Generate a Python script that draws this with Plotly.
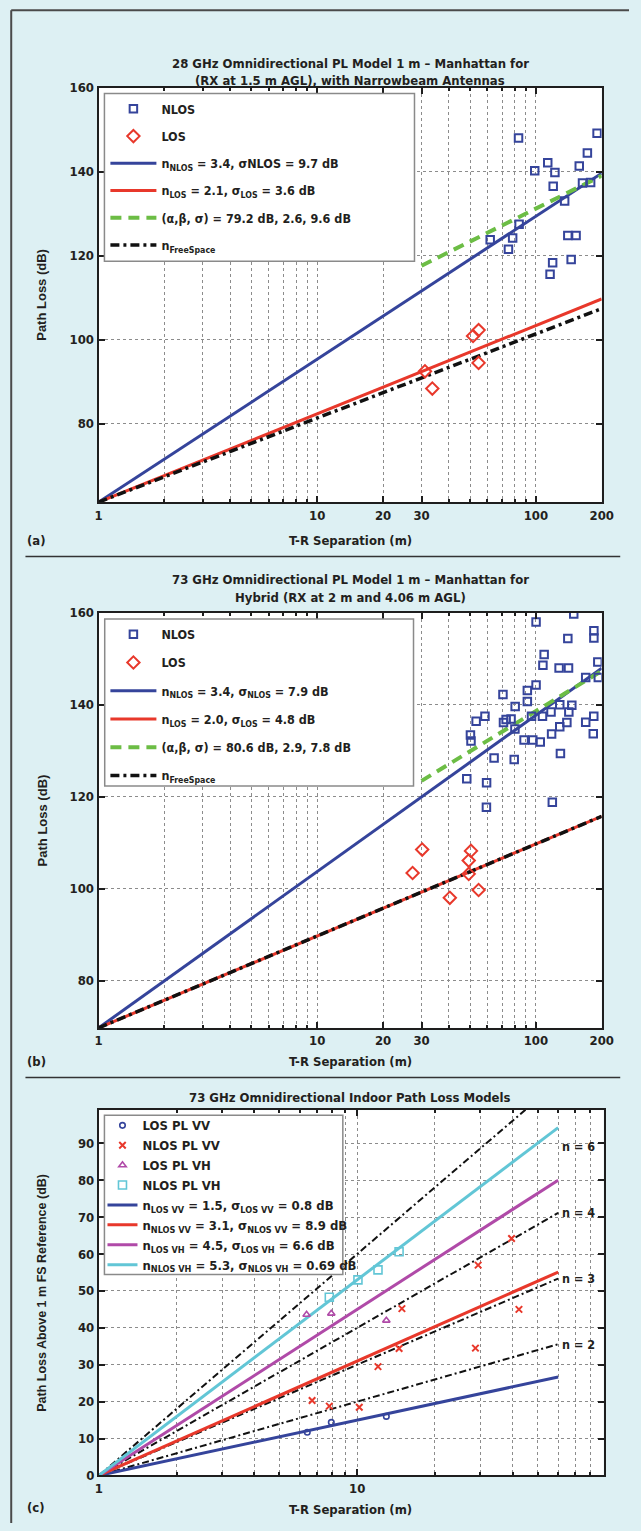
import math
import plotly.graph_objects as go

W, H = 641, 1531
C_LIGHT = 299792458.0

# ---------------- (a) 28 GHz, Manhattan, RX at 1.5 m AGL, narrowbeam ----------------
a_freq_hz = 28e9
a_nlos_dist = [83.3, 190.5, 172, 157.9, 113.3, 98.8, 122.2, 120, 163.4, 178,
               135.4, 83.8, 61.8, 78.3, 74.9, 140, 152.7, 145, 119.3, 116.1]
a_nlos_pl = [148.0, 149.1, 144.4, 141.3, 142.1, 140.2, 139.8, 136.5, 137.3, 137.4,
             133.0, 127.5, 123.8, 124.2, 121.5, 124.8, 124.8, 119.1, 118.3, 115.6]
a_los_dist = [31.1, 33.6, 51.6, 54.7, 54.7]
a_los_pl = [92.5, 88.4, 100.9, 102.3, 94.5]
a_ple = [3.4, 2.1]            # NLOS, LOS path loss exponents
a_sigma = [9.7, 3.6]          # NLOS, LOS shadow fading (dB)
a_abg = [79.2, 2.6, 9.6]      # alpha (dB), beta, sigma (dB)
a_abg_span = [30, 200]
a_span = [1, 200]

# ---------------- (b) 73 GHz, Manhattan, hybrid RX heights ----------------
b_freq_hz = 73e9
b_nlos_dist = [100.2, 149, 184.2, 184.2, 140, 109.1, 107.7, 127.7, 141, 192,
               169, 193, 100.2, 91.4, 70.7, 91.4, 80.4, 128.6, 146, 117.3,
               141.5, 58.5, 53.3, 73.1, 77, 71.1, 95.5, 107.2, 80.2, 138.6,
               128.6, 169, 184, 118, 183, 50.2, 50.5, 88.3, 96.8, 104.7,
               64.4, 79.6, 129.5, 48.3, 59.5, 59.4, 118.9]
b_nlos_pl = [158.0, 159.7, 156.1, 154.5, 154.4, 150.9, 148.6, 148.0, 148.0, 149.3,
             145.9, 145.9, 144.3, 143.1, 142.2, 140.7, 139.6, 140.0, 139.9, 138.4,
             138.4, 137.5, 136.4, 136.8, 136.9, 136.1, 137.5, 137.5, 134.7, 136.1,
             135.2, 136.2, 137.5, 133.6, 133.7, 133.4, 132.1, 132.3, 132.3, 131.9,
             128.4, 128.1, 129.4, 123.9, 123.0, 117.7, 118.8]
b_los_dist = [27.3, 30.2, 40.4, 50.5, 49.3, 49.3, 54.7]
b_los_pl = [103.4, 108.5, 98.0, 108.2, 106.1, 103.2, 99.7]
b_ple = [3.4, 2.0]
b_sigma = [7.9, 4.8]
b_abg = [80.6, 2.9, 7.8]
b_abg_span = [30, 200]
b_span = [1, 200]

free_space_n = 2

# ---------------- (c) 73 GHz indoor, co- and cross-polarized ----------------
c_los_vv_dist = [6.41, 7.94, 12.97]
c_los_vv_pl = [11.7, 14.4, 16.0]
c_nlos_vv_dist = [6.69, 7.8, 10.19, 12.04, 14.53, 14.9, 28.7, 29.4, 39.6, 42.3]
c_nlos_vv_pl = [20.3, 18.8, 18.5, 29.5, 34.4, 45.2, 34.5, 57.0, 64.2, 45.0]
c_los_vh_dist = [6.37, 7.94, 12.97]
c_los_vh_pl = [43.6, 43.9, 42.0]
c_nlos_vh_dist = [7.8, 10.07, 12.04, 14.53]
c_nlos_vh_pl = [48.3, 53.0, 55.7, 60.6]
c_ple = [1.5, 3.1, 4.5, 5.3]          # LOS VV, NLOS VV, LOS VH, NLOS VH
c_sigma = [0.8, 8.9, 6.6, 0.69]
c_ref_n = [2, 3, 4, 6]
c_span = [1, 60]

x_ticks_ab = [1, 10, 20, 30, 100, 200]
x_ticks_c = [1, 10]
y_ticks_ab = [80, 100, 120, 140, 160]
y_ticks_c = [0, 10, 20, 30, 40, 50, 60, 70, 80, 90]

# ---------------- styling ----------------
NARROW = "Liberation Sans Narrow, DejaVu Sans Condensed, Arial Narrow, sans-serif"
WIDE = "Liberation Sans, Arial, sans-serif"
TEXT = "#231f20"
BG = "#ddf0f3"
AXIS = "#1e1e1e"
GRID = "#8c8c8c"
BLUE = "#35449b"
RED = "#e8382b"
GREEN = "#6cbd45"
BLACK = "#111111"
MAGENTA = "#b04aa8"
CYAN = "#62c6d6"
DASHDOT = "9px,4px,3px,4px"

TITLE_SIZE = 13
TICK_SIZE = 13
LEGEND_SIZE = 12.5
LEGEND_SIZE_C = 13


def px(x):
    return x / W


def py(y):
    return 1 - y / H


def fspl_1m(freq_hz):
    return 20 * math.log10(4 * math.pi * freq_hz / C_LIGHT)


def ci_line(pl0, n, span):
    return [pl0 + 10 * n * math.log10(d) for d in span]


def abg_line(abg, span):
    return [abg[0] + 10 * abg[1] * math.log10(d) for d in span]


def minor_vals(lo, hi):
    vals = []
    e = 0
    while 10 ** e <= hi:
        for k in range(2, 10):
            v = k * 10 ** e
            if lo < v < hi:
                vals.append(v)
        e += 1
    return vals


fig = go.Figure()


def add_city_panel(sfx, leg, freq_hz, nlos_d, nlos_pl, los_d, los_pl, ple, sigma,
                   abg, abg_span, span, sigma_sub):
    pl0 = fspl_1m(freq_hz)
    ax = dict(xaxis="x" + sfx, yaxis="y" + sfx, legend=leg)
    sub = (lambda s: "<sub>" + s + "</sub>") if sigma_sub else (lambda s: s)
    lines = [
        (ci_line(pl0, ple[0], span), span,
         "n<sub>NLOS</sub> = %s, σ%s = %s dB" % (ple[0], sub("NLOS"), sigma[0]),
         dict(color=BLUE, width=3)),
        (ci_line(pl0, ple[1], span), span,
         "n<sub>LOS</sub> = %s, σ<sub>LOS</sub> = %s dB" % (ple[1], sigma[1]),
         dict(color=RED, width=3)),
        (abg_line(abg, abg_span), abg_span,
         "(α,β, σ) = %s dB, %s, %s dB" % (abg[0], abg[1], abg[2]),
         dict(color=GREEN, width=4, dash="11px,7px")),
        (ci_line(pl0, free_space_n, span), span,
         "n<sub>FreeSpace</sub>",
         dict(color=BLACK, width=3.5, dash=DASHDOT)),
    ]
    for i, (yv, xv, name, line) in enumerate(lines):
        fig.add_trace(go.Scatter(x=xv, y=yv, mode="lines", name=name, line=line,
                                 legendgroup=leg + str(i + 2), legendrank=i + 3,
                                 hoverinfo="skip", **ax))
    fig.add_trace(go.Scatter(x=nlos_d, y=nlos_pl, mode="markers", name="NLOS",
                             marker=dict(symbol="square-open", size=7.5, color=BLUE,
                                         line=dict(width=2, color=BLUE)),
                             legendgroup=leg + "0", legendrank=1, **ax))
    fig.add_trace(go.Scatter(x=los_d, y=los_pl, mode="markers", name="LOS",
                             marker=dict(symbol="diamond-open", size=9.5, color=RED,
                                         line=dict(width=2, color=RED)),
                             legendgroup=leg + "1", legendrank=2, **ax))
    return pl0


pl0_a = add_city_panel("", "legend", a_freq_hz, a_nlos_dist, a_nlos_pl, a_los_dist,
                       a_los_pl, a_ple, a_sigma, a_abg, a_abg_span, a_span, False)
pl0_b = add_city_panel("2", "legend2", b_freq_hz, b_nlos_dist, b_nlos_pl, b_los_dist,
                       b_los_pl, b_ple, b_sigma, b_abg, b_abg_span, b_span, True)

# ---------------- (c) ----------------
axc = dict(xaxis="x3", yaxis="y3", legend="legend3")
for n in c_ref_n:
    fig.add_trace(go.Scatter(x=c_span, y=[10 * n * math.log10(d) for d in c_span],
                             mode="lines", showlegend=False, hoverinfo="skip",
                             line=dict(color=BLACK, width=2, dash="7px,3px,2px,3px"),
                             **axc))

c_names = [("LOS VV", BLUE), ("NLOS VV", RED), ("LOS VH", MAGENTA), ("NLOS VH", CYAN)]
for i, ((tag, col), n, s) in enumerate(zip(c_names, c_ple, c_sigma)):
    fig.add_trace(go.Scatter(
        x=c_span, y=[10 * n * math.log10(d) for d in c_span], mode="lines",
        name="n<sub>%s</sub> = %s, σ<sub>%s</sub> = %s dB" % (tag, n, tag, s),
        line=dict(color=col, width=3), legendrank=5 + i, hoverinfo="skip", **axc))

c_points = [
    (c_los_vv_dist, c_los_vv_pl, "LOS PL VV",
     dict(symbol="circle-open", size=5.5, color=BLUE, line=dict(width=1.6, color=BLUE))),
    (c_nlos_vv_dist, c_nlos_vv_pl, "NLOS PL VV",
     dict(symbol="x-thin", size=6.5, color=RED, line=dict(width=2, color=RED))),
    (c_los_vh_dist, c_los_vh_pl, "LOS PL VH",
     dict(symbol="triangle-up-open", size=6.5, color=MAGENTA,
          line=dict(width=1.6, color=MAGENTA))),
    (c_nlos_vh_dist, c_nlos_vh_pl, "NLOS PL VH",
     dict(symbol="square-open", size=8, color=CYAN, line=dict(width=1.6, color=CYAN))),
]
for i, (xv, yv, name, mk) in enumerate(c_points):
    fig.add_trace(go.Scatter(x=xv, y=yv, mode="markers", name=name, marker=mk,
                             legendrank=1 + i, **axc))

# ---------------- axes ----------------
tickfont = dict(family=NARROW, size=TICK_SIZE, color=TEXT, weight="bold")
base = dict(showline=True, linecolor=AXIS, linewidth=2, mirror="ticks",
            ticks="inside", tickcolor=AXIS, tickwidth=1.5, ticklen=6,
            showgrid=True, gridcolor=GRID, gridwidth=1, griddash="dot",
            zeroline=False, tickfont=tickfont, fixedrange=True)


def log_x(domain, lo, hi, ticks):
    return dict(base, type="log", domain=domain,
                range=[math.log10(lo), math.log10(hi)],
                tickmode="array", tickvals=ticks, ticktext=[str(t) for t in ticks],
                minor=dict(tickvals=minor_vals(lo, hi), ticks="inside", ticklen=3,
                           tickcolor=AXIS, showgrid=True, gridcolor=GRID,
                           griddash="dot", gridwidth=1))


def lin_y(domain, lo, hi, ticks, anchor):
    return dict(base, domain=domain, range=[lo, hi], tickmode="array",
                tickvals=ticks, ticktext=[str(t) for t in ticks], anchor=anchor)


dom_x_ab = [px(97), px(613)]
dom_x_c = [px(97.3), px(615)]
dom_y_a = [py(500), py(81.3)]
dom_y_b = [py(1031), py(611.7)]
dom_y_c = [py(1483), py(1114)]

c_x_max = 90
c_y_max = 99

layout_axes = dict(
    xaxis=dict(log_x(dom_x_ab, a_span[0], a_span[1], x_ticks_ab), anchor="y"),
    yaxis=lin_y(dom_y_a, pl0_a, 160, y_ticks_ab, "x"),
    xaxis2=dict(log_x(dom_x_ab, b_span[0], b_span[1], x_ticks_ab), anchor="y2"),
    yaxis2=lin_y(dom_y_b, pl0_b, 160, y_ticks_ab, "x2"),
    xaxis3=dict(log_x(dom_x_c, 1, c_x_max, x_ticks_c), anchor="y3"),
    yaxis3=lin_y(dom_y_c, 0, c_y_max, y_ticks_c, "x3"),
)

# ---------------- legends ----------------
leg_font = dict(family=NARROW, size=LEGEND_SIZE, color=TEXT, weight="bold")
leg_common = dict(bgcolor="rgba(0,0,0,0)", borderwidth=0, xanchor="left",
                  yanchor="top", traceorder="grouped", font=leg_font)
legends = dict(
    legend=dict(leg_common, x=px(104), y=py(88.1), itemwidth=46, tracegroupgap=8),
    legend2=dict(leg_common, x=px(104), y=py(618.7), itemwidth=46, tracegroupgap=9),
    legend3=dict(leg_common, x=px(101), y=py(1114.3), itemwidth=30,
                 tracegroupgap=0, traceorder="normal",
                 font=dict(leg_font, size=LEGEND_SIZE_C)),
)

# ---------------- shapes: frame, separators, legend boxes ----------------
shapes = [
    dict(type="line", xref="paper", yref="paper", x0=px(7.4), x1=1.0,
         y0=py(3.3), y1=py(3.3), line=dict(color="#4a4a4a", width=2)),
    dict(type="line", xref="paper", yref="paper", x0=px(7.4), x1=px(7.4),
         y0=py(3.3), y1=0, line=dict(color="#4a4a4a", width=2)),
    dict(type="line", xref="paper", yref="paper", x0=px(22), x1=px(632),
         y0=py(555), y1=py(555), line=dict(color="#333333", width=1.5)),
    dict(type="line", xref="paper", yref="paper", x0=px(22), x1=px(632),
         y0=py(1081), y1=py(1081), line=dict(color="#333333", width=1.5)),
]
for (x0, y0, x1, y1) in [(103, 87.3, 421, 256.7), (103.3, 618, 420, 786.7),
                         (103, 1119.3, 347.5, 1280)]:
    shapes.append(dict(type="rect", xref="paper", yref="paper", layer="above",
                       x0=px(x0), x1=px(x1), y0=py(y1), y1=py(y0),
                       fillcolor="white", line=dict(color="#8a8a8a", width=1.5)))


# ---------------- annotations ----------------
def note(text, x, y, size=TITLE_SIZE, family=NARROW, angle=0, anchor="center"):
    return dict(text=text, x=x, y=y, xref="paper", yref="paper", showarrow=False,
                xanchor=anchor, yanchor="middle", textangle=angle,
                font=dict(family=family, size=size, color=TEXT, weight="bold"))


cx = px(355)
annotations = [
    note("28 GHz Omnidirectional PL Model 1 m – Manhattan for", cx, py(56.7)),
    note("(RX at 1.5 m AGL), with Narrowbeam Antennas", cx, py(74)),
    note("73 GHz Omnidirectional PL Model 1 m – Manhattan for", cx, py(578)),
    note("Hybrid (RX at 2 m and 4.06 m AGL)", cx, py(596.7)),
    note("73 GHz Omnidirectional Indoor Path Loss Models", cx, py(1101.7)),
    note("T-R Separation (m)", cx, py(538.3)),
    note("T-R Separation (m)", cx, py(1065)),
    note("T-R Separation (m)", cx, py(1517)),
    note("(a)", px(33), py(538.3)),
    note("(b)", px(33), py(1065)),
    note("(c)", px(33), py(1515)),
    note("Path Loss (dB)", px(39), py(290.6), size=13, family=WIDE, angle=-90),
    note("Path Loss (dB)", px(39), py(821.4), size=13, family=WIDE, angle=-90),
    note("Path Loss Above 1 m FS Reference (dB)", px(39), py(1298.5), size=12.5,
         family=WIDE, angle=-90),
]
for n in c_ref_n:
    y_end = 10 * n * math.log10(c_span[1])
    annotations.append(dict(
        text="n = %d" % n, x=math.log10(c_span[1]), y=min(y_end, 0.9 * c_y_max),
        xref="x3", yref="y3", xanchor="left", yanchor="middle", xshift=2,
        showarrow=False,
        font=dict(family=NARROW, size=12.5, color=TEXT, weight="bold")))

fig.update_layout(
    width=W, height=H, margin=dict(l=0, r=0, t=0, b=0),
    paper_bgcolor=BG, plot_bgcolor="white",
    font=dict(family=NARROW, size=13, color=TEXT),
    showlegend=True, shapes=shapes, annotations=annotations,
    hovermode=False,
    **layout_axes, **legends,
)

fig.write_html("out.html")
